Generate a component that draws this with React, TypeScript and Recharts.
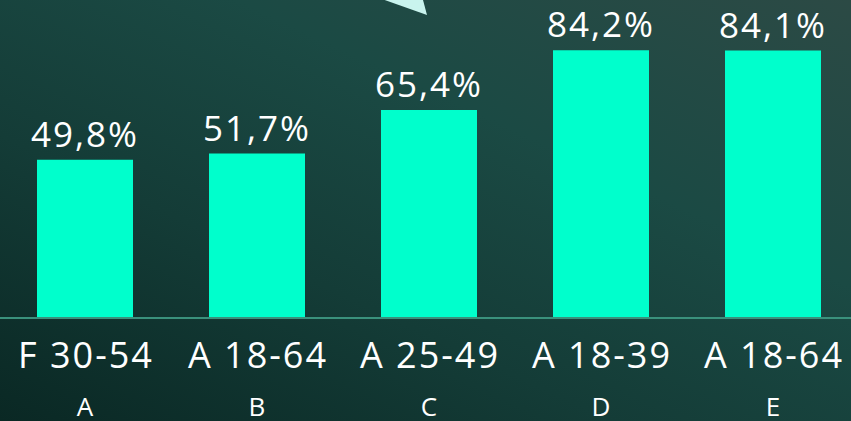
import React from 'react';
import { BarChart, Bar, XAxis, YAxis, LabelList } from 'recharts';

const letters = ['A', 'B', 'C', 'D', 'E'];
const groups = ['F 30-54', 'A 18-64', 'A 25-49', 'A 18-39', 'A 18-64'];
const shares = [49.8, 51.7, 65.4, 84.2, 84.1];

const data = letters.map((letter, i) => ({ letter, group: groups[i], share: shares[i] }));

const FONT = '"Open Sans", sans-serif';

const fmt = (v: any) => `${Number(v).toFixed(1).replace('.', ',')}%`;

const GroupTick: React.FC<any> = ({ x, y, payload, index }) => {
    const i = payload?.index ?? index;
    return (
        <g>
            <text x={x + 1} y={y} dy={44} textAnchor="middle" fill="#ffffff" fontSize={36} letterSpacing={2} fontFamily={FONT}>
                {groups[i]}
            </text>
            <text x={x} y={y} dy={92} textAnchor="middle" fill="#ffffff" fontSize={26} fontFamily={FONT}>
                {letters[i]}
            </text>
        </g>
    );
};

export default function App() {
    return (
        <div
            style={{
                position: 'fixed',
                left: 0,
                top: 0,
                width: 851,
                height: 421,
                overflow: 'hidden',
                background: 'linear-gradient(205deg, #2c4a45 0%, #1b4a44 35%, #143c37 65%, #0a2824 100%)',
            }}
        >
            <svg width={851} height={421} style={{ position: 'absolute', left: 0, top: 0 }}>
                <polygon points="300,-30 423,0 427,15" fill="#c9f4ee" />
            </svg>
            <div style={{ position: 'absolute', left: -1, top: 0 }}>
                <BarChart width={860} height={421} data={data} margin={{ top: 0, right: 0, bottom: 0, left: 0 }}>
                    <YAxis hide domain={[0, 100]} />
                    <XAxis
                        dataKey="letter"
                        height={103}
                        axisLine={{ stroke: '#3a917c', strokeWidth: 2 }}
                        tickLine={false}
                        tickMargin={0}
                        tick={<GroupTick />}
                        interval={0}
                    />
                    <Bar dataKey="share" fill="#00ffcc" barSize={96} isAnimationActive={false}>
                        <LabelList
                            dataKey="share"
                            position="top"
                            offset={13}
                            formatter={fmt}
                            fill="#ffffff"
                            fontSize={35}
                            letterSpacing={2}
                            fontFamily={FONT}
                        />
                    </Bar>
                </BarChart>
            </div>
        </div>
    );
}
